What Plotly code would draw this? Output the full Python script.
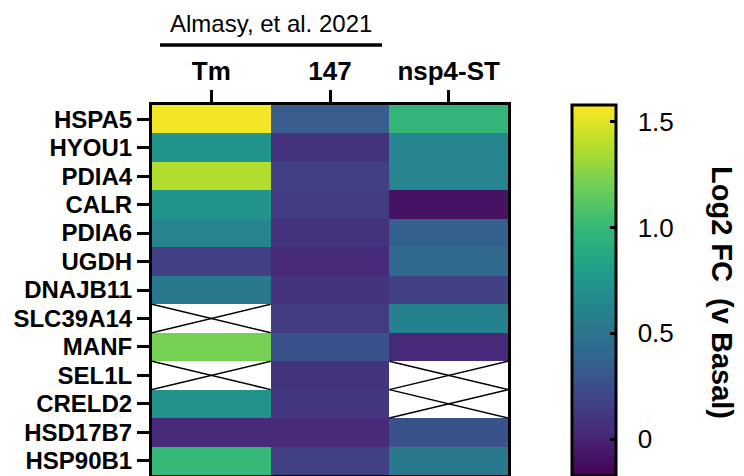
import plotly.graph_objects as go

genes = ["HSPA5", "HYOU1", "PDIA4", "CALR", "PDIA6", "UGDH", "DNAJB11",
         "SLC39A14", "MANF", "SEL1L", "CRELD2", "HSD17B7", "HSP90B1"]
conditions = ["Tm", "147", "nsp4-ST"]

tm_vals = [1.55, 0.74, 1.37, 0.74, 0.62, 0.16, 0.53, None, 1.21, None, 0.72, 0.04, 1.0]
v147_vals = [0.34, 0.08, 0.16, 0.13, 0.08, 0.03, 0.09, 0.13, 0.27, 0.09, 0.10, 0.03, 0.16]
nsp4_vals = [0.98, 0.62, 0.62, -0.09, 0.36, 0.41, 0.16, 0.60, 0.03, None, None, 0.27, 0.53]

cbar_ticks = [0, 0.5, 1.0, 1.5]
cbar_ticktext = ["0", "0.5", "1.0", "1.5"]
zmin, zmax = -0.175, 1.58

columns = [tm_vals, v147_vals, nsp4_vals]
z = []
for r in range(len(genes)):
    row = []
    for c in range(len(conditions)):
        v = columns[c][r]
        row.append(float("nan") if v is None else v)
    z.append(row)

FONT = "Arial, Liberation Sans, sans-serif"

# page body has an 8px margin: lay out in figure pixels = reference pixels - 8
OFF = 8
W, H = 744 - OFF, 476 - OFF
L, R, T, B = 152 - OFF, 508 - OFF, 105 - OFF, 475 - OFF
PW, PH = R - L, B - T


def px_x(p):
    return (p - OFF - L) / PW


def px_y(p):
    return (B - (p - OFF)) / PH


CB_TOP = 105
CB_LEN = H - (CB_TOP - OFF)
NB = "\u00a0"

fig = go.Figure(go.Heatmap(
    z=z, x=list(range(len(conditions))), y=list(range(len(genes))),
    colorscale="Viridis", zmin=zmin, zmax=zmax, hoverongaps=False,
    colorbar=dict(
        x=px_x(572), xanchor="left", xpad=0,
        y=px_y(CB_TOP), yanchor="top", ypad=0,
        lenmode="pixels", len=CB_LEN, thickness=44,
        outlinewidth=3, outlinecolor="black",
        tickvals=cbar_ticks, ticktext=[NB * 2 + t for t in cbar_ticktext],
        ticks="inside", ticklen=7, tickwidth=2.5, tickcolor="black",
        tickfont=dict(family=FONT, size=26, color="black"),
    ),
))

# crossed-out (missing) cells
shapes = []
for c in range(len(conditions)):
    for r in range(len(genes)):
        if columns[c][r] is None:
            shapes.append(dict(type="line", xref="x", yref="y",
                               x0=c - 0.5, x1=c + 0.5, y0=r - 0.5, y1=r + 0.5,
                               line=dict(color="black", width=1.5)))
            shapes.append(dict(type="line", xref="x", yref="y",
                               x0=c - 0.5, x1=c + 0.5, y0=r + 0.5, y1=r - 0.5,
                               line=dict(color="black", width=1.5)))

# header underline
shapes.append(dict(type="line", xref="paper", yref="paper",
                   x0=px_x(160), x1=px_x(382), y0=px_y(45), y1=px_y(45),
                   line=dict(color="black", width=3.5)))

fig.update_layout(
    width=W, height=H,
    margin=dict(l=L, r=W - R, t=T, b=H - B, autoexpand=False),
    paper_bgcolor="white", plot_bgcolor="white",
    font=dict(family=FONT, color="black"),
    shapes=shapes,
    annotations=[
        dict(text="Almasy, et al. 2021", xref="x", yref="paper",
             x=0.5, y=px_y(23), xanchor="center", yanchor="middle",
             showarrow=False, font=dict(family=FONT, size=24, color="black")),
        dict(text="<b>Log2 FC" + NB * 2 + "(v Basal)</b>", xref="paper", yref="paper",
             x=px_x(722), y=px_y(292), xanchor="center", yanchor="middle",
             showarrow=False, textangle=90,
             font=dict(family=FONT, size=29, color="black")),
    ],
)

fig.update_xaxes(
    side="top", tickvals=list(range(len(conditions))),
    ticktext=["<b>%s</b>" % t for t in conditions],
    tickfont=dict(family=FONT, size=26, color="black"),
    ticks="outside", ticklen=12, tickwidth=2.5, tickcolor="black",
    showline=True, mirror=True, linewidth=3, linecolor="black",
    showgrid=False, zeroline=False, range=[-0.5, len(conditions) - 0.5],
    automargin=False,
)
fig.update_yaxes(
    tickvals=list(range(len(genes))),
    ticktext=["<b>%s</b>" % g for g in genes],
    tickfont=dict(family=FONT, size=24, color="black"),
    ticks="outside", ticklen=12, tickwidth=2.5, tickcolor="black",
    showline=True, mirror=True, linewidth=3, linecolor="black",
    showgrid=False, zeroline=False, range=[len(genes) - 0.5, -0.5],
    automargin=False,
)

fig.write_html("out.html")
